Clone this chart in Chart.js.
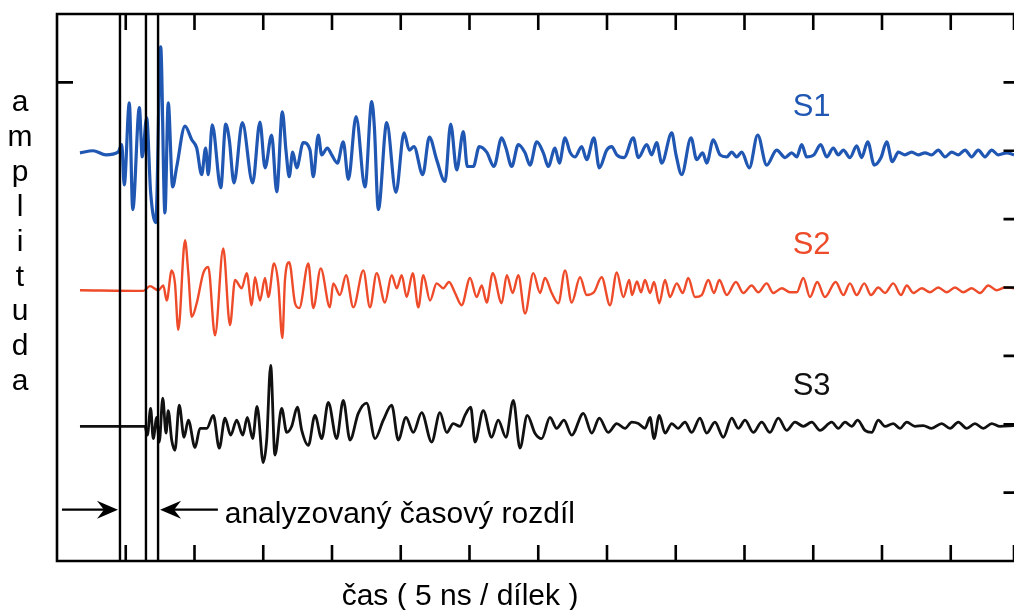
<!DOCTYPE html>
<html>
<head>
<meta charset="utf-8">
<script src="https://cdn.jsdelivr.net/npm/chart.js@4.4.0/dist/chart.umd.min.js"></script>
<style>
  html, body { margin: 0; padding: 0; background: #fff; overflow: hidden; }
  canvas { display: block; }
</style>
</head>
<body>
<canvas id="scope" width="1014" height="610"></canvas>
<script>
// ── Data: time in ns, amplitude in divisions ──────────────────────────────────
const s1Points = [
  [1.67,0],[2.62,0.03],[3.56,-0.03],[4.44,0.01],[4.71,0.12],[4.89,-0.47],[5.26,0.73],[5.51,-0.83],
  [5.99,0.66],[6.20,-0.06],[6.52,0.51],[6.81,-0.58],[7.18,-1.02],[7.54,1.55],[7.85,-0.88],[8.09,0.73],
  [8.41,-0.50],[8.71,-0.20],[9.31,0.39],[9.80,0.19],[10.16,0.07],[10.52,-0.32],[10.81,0.07],[11.00,-0.32],
  [11.29,0.41],[11.91,-0.51],[12.27,0.42],[12.53,0.19],[12.87,-0.44],[13.48,0.44],[14.23,-0.44],[14.76,0.45],
  [15.13,-0.22],[15.61,0.26],[15.98,-0.57],[16.39,0.60],[16.65,0.04],[16.89,-0.35],[17.14,0.01],[17.43,-0.22],
  [17.91,0.15],[18.40,0.04],[18.64,-0.35],[19.00,0.26],[19.25,-0.03],[19.66,0.07],[19.98,-0.03],[20.39,-0.15],
  [20.82,0.16],[21.19,-0.39],[21.75,0.53],[22.40,-0.50],[22.89,0.75],[23.08,0.38],[23.37,-0.83],[23.98,0.44],
  [24.65,-0.58],[25.24,0.29],[25.62,0.04],[25.96,0.09],[26.60,-0.32],[27.08,0.23],[27.61,-0.10],[28.22,-0.42],
  [28.63,0.42],[29.07,-0.25],[29.55,0.31],[29.84,-0.20],[30.28,-0.20],[30.71,0.09],[31.25,0.01],[31.78,-0.20],
  [32.34,0.22],[32.65,0.07],[33.07,-0.20],[33.55,0.12],[34.04,0],[34.40,-0.18],[34.89,0.16],[35.37,0],
  [35.73,-0.20],[36.22,0.07],[36.53,-0.15],[36.95,0.22],[37.31,0.01],[37.67,-0.06],[38.16,0.09],[38.52,-0.10],
  [39.05,0.22],[39.44,-0.22],[39.98,0.04],[40.34,0.09],[40.71,-0.03],[41.24,-0.07],[41.91,0.22],[42.28,-0.07],
  [42.89,0.12],[43.25,-0.03],[43.61,0.15],[43.98,-0.15],[44.71,0.29],[45.02,-0.03],[45.43,-0.32],[46.11,0.22],
  [46.52,-0.10],[46.96,0],[47.25,-0.15],[47.73,0.19],[48.22,-0.03],[48.71,-0.06],[49.07,0.01],[49.43,-0.06],
  [49.80,0.01],[50.35,-0.22],[50.96,0.26],[51.61,-0.18],[52.34,0.04],[52.95,-0.07],[53.43,0],[53.80,-0.06],
  [54.16,0.12],[54.52,-0.06],[55.05,-0.03],[55.54,0.12],[55.98,-0.06],[56.46,0.07],[56.82,-0.03],[57.19,0.04],
  [57.67,-0.07],[58.16,0.10],[58.52,-0.07],[58.96,0.16],[59.44,-0.18],[59.93,-0.07],[60.34,0.16],[60.75,-0.13],
  [61.19,0.01],[61.67,-0.03],[62.16,0.01],[62.64,-0.03],[63.13,0],[63.61,-0.03],[64.09,0.04],[64.58,-0.06],
  [65.07,0.01],[65.55,-0.03],[66.04,0.04],[66.52,-0.06],[67.00,0.04],[67.49,-0.06],[67.98,0.04],[68.46,-0.03],
  [69.07,0],[69.60,-0.03]
];

const s2Points = [
  [1.67,0],[6.28,-0.01],[6.76,0.06],[7.37,0],[7.73,0.07],[7.98,-0.15],[8.34,0.29],[8.58,0.10],
  [8.82,-0.58],[9.31,0.73],[9.55,0.25],[9.80,-0.39],[10.16,-0.19],[10.64,0.25],[11.00,0.34],[11.49,-0.66],
  [12.09,0.61],[12.58,-0.51],[12.95,0.15],[13.43,0.03],[13.80,0.25],[14.16,-0.22],[14.40,0.19],[14.76,-0.15],
  [15.13,0.18],[15.37,-0.10],[15.78,0.39],[16.09,0.10],[16.39,-0.70],[16.58,0.15],[16.89,0.41],[17.31,-0.19],
  [17.62,-0.26],[18.28,0.39],[18.64,-0.26],[19.18,0.32],[19.85,-0.25],[20.09,0.10],[20.58,-0.07],[21.02,0.22],
  [21.55,-0.25],[22.28,0.29],[22.76,-0.25],[23.25,0.25],[23.85,-0.18],[24.34,0.22],[24.71,0.03],[25.07,0.22],
  [25.43,-0.10],[25.87,0.25],[26.28,-0.25],[26.64,0.22],[27.13,-0.15],[27.61,0.10],[28.09,0.03],[28.51,0.12],
  [28.95,-0.04],[29.43,-0.22],[30.04,0.18],[30.52,-0.10],[30.89,0.07],[31.25,-0.18],[31.69,0.25],[32.34,-0.19],
  [32.71,0.22],[33.14,-0.04],[33.55,0.22],[34.04,-0.34],[34.64,0.25],[35.13,-0.04],[35.49,0.18],[35.98,-0.04],
  [36.46,-0.19],[36.95,0.29],[37.43,-0.18],[38.04,0.19],[38.52,-0.07],[39.05,-0.03],[39.61,0.19],[40.22,-0.22],
  [40.71,0.26],[41.19,-0.10],[41.62,0.15],[41.82,-0.07],[42.18,0.13],[42.47,-0.03],[42.76,0.15],[43.13,-0.04],
  [43.42,0.12],[43.80,-0.19],[44.22,0.15],[44.58,-0.10],[45.07,0.10],[45.51,-0.04],[45.91,0.18],[46.40,-0.10],
  [46.89,-0.07],[47.37,0.15],[47.78,-0.04],[48.17,0.15],[48.71,-0.07],[49.38,0.12],[49.91,-0.04],[50.52,0.07],
  [51.00,-0.03],[51.61,0.10],[52.09,-0.04],[52.71,0.03],[53.31,-0.03],[53.80,-0.03],[54.28,0.18],[54.76,-0.10],
  [55.29,0.12],[55.85,-0.10],[56.63,0.12],[57.19,-0.07],[57.67,0.10],[58.16,-0.07],[58.71,0.10],[59.20,-0.07],
  [59.73,0.04],[60.22,-0.04],[60.82,0.10],[61.38,-0.07],[61.80,0.07],[62.28,-0.04],[62.89,0.03],[63.49,-0.03],
  [64.09,0.04],[64.71,-0.03],[65.31,0.04],[65.91,-0.03],[66.52,0.03],[67.13,-0.04],[67.73,0.07],[68.34,0],
  [68.95,0.04],[69.60,0.03]
];

const s3Points = [
  [1.67,0],[6.40,0],[6.57,-0.13],[6.81,0.26],[7.00,-0.18],[7.25,0.13],[7.44,-0.23],[7.69,0.41],
  [7.93,-0.10],[8.09,0.23],[8.34,-0.20],[8.58,-0.35],[8.89,0.31],[9.24,-0.16],[9.55,0.09],[10.04,-0.31],
  [10.40,-0.03],[10.89,-0.03],[11.37,0.16],[11.80,-0.32],[12.22,0.12],[12.63,-0.13],[13.07,0.09],[13.51,-0.13],
  [13.84,0.13],[14.23,-0.18],[14.55,0.29],[15.00,-0.53],[15.25,-0.20],[15.54,0.89],[15.85,-0.42],[16.34,0.26],
  [16.71,-0.09],[17.07,0],[17.48,0.28],[17.80,-0.06],[18.28,-0.28],[18.76,0.16],[19.25,-0.18],[19.73,0.35],
  [20.34,-0.18],[20.82,0.38],[21.31,-0.20],[21.91,0.19],[22.52,0.34],[23.13,-0.18],[23.73,0.09],[24.34,0.31],
  [24.82,-0.20],[25.38,0.13],[25.91,-0.09],[26.52,0.20],[27.25,-0.23],[27.85,0.20],[28.34,-0.09],[28.82,0.04],
  [29.31,0],[29.67,0.16],[30.09,0.28],[30.40,-0.23],[31.00,0.23],[31.61,-0.16],[32.09,0.09],[32.65,-0.16],
  [33.19,0.38],[33.67,-0.32],[34.20,0.16],[34.76,-0.10],[35.25,-0.18],[35.85,0.13],[36.34,-0.03],[36.87,0.09],
  [37.43,-0.13],[38.28,0.19],[38.89,-0.10],[39.44,0.12],[40.09,-0.09],[40.71,0.04],[41.31,-0.03],[41.80,0.06],
  [42.28,0.04],[42.76,-0.03],[43.13,0.13],[43.42,-0.18],[43.80,0.16],[44.22,-0.10],[44.71,0.04],[45.16,-0.03],
  [45.67,0.06],[46.16,-0.09],[46.76,0.12],[47.25,-0.10],[47.85,0.06],[48.46,-0.16],[49.07,0.12],[49.55,-0.03],
  [50.04,0.09],[50.64,-0.09],[51.25,0.06],[51.85,-0.09],[52.46,0.12],[53.07,-0.06],[53.67,0.06],[54.28,0],
  [54.89,0.06],[55.49,-0.06],[56.34,0.06],[56.82,-0.03],[57.31,0.06],[57.80,0],[58.23,0.09],[58.76,-0.06],
  [59.25,-0.09],[59.73,0.09],[60.22,0],[60.82,0.04],[61.31,-0.03],[61.80,0.06],[62.40,0],[63.00,0.01],
  [63.61,-0.03],[64.34,0.04],[64.95,-0.03],[65.55,0.06],[66.16,-0.03],[66.76,0.04],[67.37,-0.03],[67.98,0.04],
  [68.58,0],[69.60,0.01]
];

// trace baselines (y in divisions, 0 = bottom of the frame)
const traceNames   = ["S1", "S2", "S3"];
const traceOffsets = [5.97, 3.96, 1.97];
const traceColors  = ["#1f57b3", "#ee4b2a", "#111111"];
const traceWidths  = [3.2, 2.4, 2.8];
const traceLabelY  = [6.64, 4.62, 2.56];   // where the S1..S3 names sit
const labelTime    = 53.5;                 // ns

// time markers (ns) and the "analysed time difference" arrows
const markerTimes  = [4.58, 6.47, 7.35];
const arrowLevel   = 0.75;
const arrowTail    = [0.36, 11.7];
const noteTime     = 12.2;

const X_MAX     = 69.6;   // visible part of the time axis
const FRAME_END = 70;     // frame continues just past the crop
const Y_MAX     = 8;
const leftTicks = [7];

const FONT = "'Liberation Sans', Arial, sans-serif";

// ── Overlay: frame, inward ticks, markers, arrows, texts ──────────────────────
const scopeOverlay = {
  id: "scopeOverlay",
  afterDatasetsDraw(chart) {
    const { ctx, chartArea: a, scales: { x, y } } = chart;
    const right = x.getPixelForValue(FRAME_END);
    ctx.save();
    ctx.strokeStyle = "#000";
    ctx.fillStyle   = "#000";
    ctx.lineWidth   = 2.6;
    ctx.lineCap     = "butt";

    // frame (right side is cut off)
    ctx.beginPath();
    ctx.moveTo(right, a.top);
    ctx.lineTo(a.left, a.top);
    ctx.lineTo(a.left, a.bottom);
    ctx.lineTo(right, a.bottom);
    ctx.stroke();

    // x ticks, top and bottom, pointing inward
    ctx.beginPath();
    x.ticks.forEach((t) => {
      if (t.value <= 0) return;
      const px = x.getPixelForValue(t.value);
      ctx.moveTo(px, a.top);    ctx.lineTo(px, a.top + 16);
      ctx.moveTo(px, a.bottom); ctx.lineTo(px, a.bottom - 16);
    });
    // y ticks on the right edge
    y.ticks.forEach((t) => {
      if (t.value <= 0 || t.value >= Y_MAX) return;
      const py = y.getPixelForValue(t.value);
      ctx.moveTo(right, py); ctx.lineTo(right - 16, py);
    });
    leftTicks.forEach((v) => {
      const py = y.getPixelForValue(v);
      ctx.moveTo(a.left, py); ctx.lineTo(a.left + 16, py);
    });
    ctx.stroke();

    // marker lines
    ctx.lineWidth = 2.4;
    ctx.beginPath();
    markerTimes.forEach((t) => {
      const px = x.getPixelForValue(t);
      ctx.moveTo(px, a.top);
      ctx.lineTo(px, a.bottom);
    });
    ctx.stroke();

    // arrows pointing at the first and last marker
    const ay = y.getPixelForValue(arrowLevel);
    const drawArrow = (fromT, toT) => {
      const x0 = x.getPixelForValue(fromT);
      const tip = x.getPixelForValue(toT) + (toT > fromT ? -2 : 2);
      const dir = Math.sign(tip - x0);
      ctx.lineWidth = 2.2;
      ctx.beginPath();
      ctx.moveTo(x0, ay);
      ctx.lineTo(tip - dir * 12, ay);
      ctx.stroke();
      ctx.beginPath();
      ctx.moveTo(tip, ay);
      ctx.lineTo(tip - dir * 21, ay - 9);
      ctx.lineTo(tip - dir * 14, ay);
      ctx.lineTo(tip - dir * 21, ay + 9);
      ctx.closePath();
      ctx.fill();
    };
    drawArrow(arrowTail[0], markerTimes[0]);
    drawArrow(arrowTail[1], markerTimes[markerTimes.length - 1]);

    // note next to the arrow
    ctx.font = "30px " + FONT;
    ctx.textAlign = "left";
    ctx.textBaseline = "alphabetic";
    ctx.fillText("analyzovaný časový rozdíl", x.getPixelForValue(noteTime), ay + 13);

    // trace names
    ctx.font = "31px " + FONT;
    ctx.textBaseline = "middle";
    traceNames.forEach((name, i) => {
      ctx.fillStyle = traceColors[i];
      ctx.fillText(name, x.getPixelForValue(labelTime), y.getPixelForValue(traceLabelY[i]));
    });

    // axis titles
    ctx.fillStyle = "#000";
    ctx.font = "30px " + FONT;
    ctx.textAlign = "center";
    ctx.textBaseline = "alphabetic";
    ctx.fillText("čas ( 5 ns / dílek )", 460, 605);
    "amplituda".split("").forEach((ch, i) => {
      ctx.fillText(ch, 20, 111 + i * 34.9);
    });
    ctx.restore();
  },
};

// ── Chart ─────────────────────────────────────────────────────────────────────
const pointSets = [s1Points, s2Points, s3Points];

new Chart(document.getElementById("scope").getContext("2d"), {
  type: "line",
  data: {
    datasets: pointSets.map((pts, i) => ({
      label: traceNames[i],
      data: pts.map(([t, v]) => ({ x: t, y: v + traceOffsets[i] })),
      borderColor: traceColors[i],
      borderWidth: traceWidths[i],
      borderJoinStyle: "round",
      pointRadius: 0,
      cubicInterpolationMode: "monotone",
      fill: false,
    })),
  },
  options: {
    responsive: false,
    animation: false,
    devicePixelRatio: 1,
    layout: { padding: { left: 57, top: 14, right: 0, bottom: 49 } },
    plugins: { legend: { display: false }, tooltip: { enabled: false } },
    scales: {
      x: { type: "linear", min: 0, max: X_MAX, display: false, ticks: { stepSize: 5 } },
      y: { type: "linear", min: 0, max: Y_MAX, display: false, ticks: { stepSize: 1 } },
    },
  },
  plugins: [scopeOverlay],
});
</script>
</body>
</html>
